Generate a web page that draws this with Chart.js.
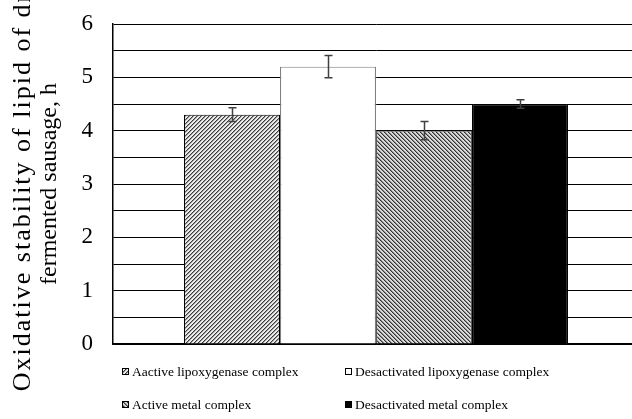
<!DOCTYPE html>
<html>
<head>
<meta charset="utf-8">
<script src="https://cdn.jsdelivr.net/npm/chart.js@4.4.1/dist/chart.umd.min.js"></script>
<style>
  html, body { margin: 0; padding: 0; background: #fff; }
  #wrap { position: relative; width: 632px; height: 419px; overflow: hidden; }
  #c { position: absolute; left: 0; top: 0; }
  .lg { position: absolute; font-family: "Liberation Serif", "Times New Roman", serif; font-size: 13.5px; color: #000; white-space: nowrap; line-height: 16px; }
  .lg canvas { position: absolute; left: 0; top: 4px; }
  .lg span { position: absolute; left: 10px; top: 0; }
</style>
</head>
<body>
<div id="wrap">
  <canvas id="c" width="640" height="419"></canvas>
</div>
<script>
// ---- data ----
const categories = [''];
const seriesLabels = ['Aactive lipoxygenase complex', 'Desactivated lipoxygenase complex', 'Active metal complex', 'Desactivated metal complex'];
const seriesValues = [4.3, 5.2, 4.0, 4.5];
const seriesErrors = [0.13, 0.21, 0.17, 0.08];
const yTickLabels = ['0', '1', '2', '3', '4', '5', '6'];
const yTitleLine1 = 'Oxidative stability of lipid of dry';
const yTitleLine2 = 'fermented sausage, h';

// ---- patterns ----
function makePattern(dir, dark, mid, light) {
  const t = document.createElement('canvas');
  t.width = 4; t.height = 4;
  const g = t.getContext('2d');
  for (let y = 0; y < 4; y++) for (let x = 0; x < 4; x++) {
    const k = dir === '/' ? (x + y) % 4 : (x - y + 8) % 4;
    g.fillStyle = k === 0 ? dark : (k === 1 ? mid : light);
    g.fillRect(x, y, 1, 1);
  }
  return g.createPattern(t, 'repeat');
}
const ctx = document.getElementById('c').getContext('2d');
const fills = [
  makePattern('/', '#3c3c3c', '#9a9a9a', '#ececec'),
  '#ffffff',
  makePattern('\\', '#333333', '#8a8a8a', '#dadada'),
  '#000000'
];
const borders = ['#000000', '#808080', '#5a5a5a', '#000000'];

const errorBars = {
  id: 'errorBars',
  afterDatasetsDraw(chart) {
    const c = chart.ctx, ys = chart.scales.y;
    c.save();
    c.strokeStyle = '#404040';
    c.lineWidth = 1.5;
    chart.data.datasets.forEach((ds, i) => {
      const meta = chart.getDatasetMeta(i);
      meta.data.forEach((el, j) => {
        const v = ds.data[j], e = seriesErrors[i];
        const x = Math.round(el.x) + 0.5;
        const y1 = ys.getPixelForValue(v + e), y2 = ys.getPixelForValue(v - e);
        c.beginPath();
        c.moveTo(x, y1); c.lineTo(x, y2);
        c.moveTo(x - 4, y1); c.lineTo(x + 4, y1);
        c.moveTo(x - 4, y2); c.lineTo(x + 4, y2);
        c.stroke();
      });
    });
    c.restore();
  }
};

const serif = '"Liberation Serif", "Times New Roman", serif';

const chart = new Chart(ctx, {
  type: 'bar',
  data: {
    labels: categories,
    datasets: seriesLabels.map((lab, i) => ({
      label: lab,
      data: [seriesValues[i]],
      yAxisID: 'y',
      backgroundColor: fills[i],
      borderColor: borders[i],
      borderWidth: 1.2,
      categoryPercentage: 0.73,
      barPercentage: 1.0
    }))
  },
  options: {
    responsive: false,
    animation: false,
    devicePixelRatio: 1,
    layout: { padding: { left: 0, right: 1, top: 24, bottom: 75 } },
    plugins: { legend: { display: false }, tooltip: { enabled: false } },
    scales: {
      x: {
        ticks: { display: false },
        grid: { display: false, drawTicks: false },
        border: { display: true, color: '#000', width: 1.5 }
      },
      yOuter: {
        type: 'linear',
        position: 'left',
        weight: 1,
        min: 0, max: 1,
        afterFit(s) {
          s.width = 32;
          if (!s._lsPatched) {
            const orig = s.drawTitle;
            s.drawTitle = function () {
              const c = this.ctx;
              c.save();
              c.letterSpacing = '2px';
              orig.call(this);
              c.restore();
            };
            s._lsPatched = true;
          }
        },
        ticks: { display: false },
        grid: { display: false, drawTicks: false },
        border: { display: false },
        title: {
          display: true,
          text: yTitleLine1,
          color: '#000',
          font: { family: serif, size: 26, lineHeight: 1.15 },
          padding: { top: 8, bottom: 0 }
        }
      },
      y: {
        min: 0, max: 6,
        weight: 0,
        afterFit(s) { s.width = 81; },
        ticks: {
          stepSize: 0.5,
          autoSkip: false,
          padding: 0,
          color: '#000',
          font: { family: serif, size: 23 },
          callback: (v) => Number.isInteger(v) ? yTickLabels[v] : ''
        },
        grid: { color: '#000', lineWidth: 1, drawTicks: true, tickLength: 20, tickColor: 'rgba(0,0,0,0)' },
        border: { display: true, color: '#000', width: 1.5 },
        title: {
          display: true,
          text: yTitleLine2,
          color: '#000',
          font: { family: serif, size: 24, lineHeight: 1.15 },
          padding: { top: 4, bottom: 4 }
        }
      }
    }
  },
  plugins: [errorBars]
});

// ---- HTML legend from chart datasets ----
const legendPos = [[122, 364], [345, 364], [122, 397], [345, 397]];
const wrap = document.getElementById('wrap');
chart.data.datasets.forEach((ds, i) => {
  const d = document.createElement('div');
  d.className = 'lg';
  d.style.left = legendPos[i][0] + 'px';
  d.style.top = legendPos[i][1] + 'px';
  const sw = document.createElement('canvas');
  sw.width = 7; sw.height = 7;
  const g = sw.getContext('2d');
  g.fillStyle = ds.backgroundColor; g.fillRect(0, 0, 7, 7);
  g.strokeStyle = '#000'; g.lineWidth = 1; g.strokeRect(0.5, 0.5, 6, 6);
  const sp = document.createElement('span');
  sp.textContent = ds.label;
  d.appendChild(sw); d.appendChild(sp);
  wrap.appendChild(d);
});
</script>
</body>
</html>
